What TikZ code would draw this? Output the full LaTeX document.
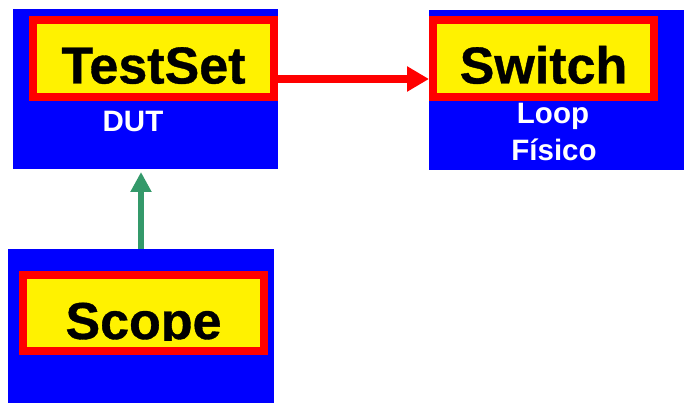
\documentclass[tikz,border=0pt]{standalone}
\usepackage{fontspec}
\setmainfont{Liberation Sans}
\newfontfamily\heavyfont[BoldFeatures={FakeBold=0.7}]{Liberation Sans}
\usetikzlibrary{arrows.meta}
\definecolor{arrowgreen}{RGB}{52,153,106}
\tikzset{
  outerbox/.style={fill=blue, draw=none, inner sep=0pt, outer sep=0pt},
  titlebox/.style={fill=yellow, draw=red, line width=8pt, inner sep=0pt, minimum width=#1, minimum height=77pt},
  bigtext/.style={font=\heavyfont\bfseries\fontsize{52}{60}\selectfont, text=black, inner sep=0pt, anchor=base},
  smalltext/.style={font=\bfseries\fontsize{29.5}{36}\selectfont, text=white, inner sep=0pt, anchor=base},
}
\begin{document}
\begin{tikzpicture}[x=1pt,y=-1pt]
\useasboundingbox (0,0) rectangle (684,403);
% outer blue boxes
\node[outerbox, minimum width=265pt, minimum height=160pt] (testbox) at (145.5,89) {};
\node[outerbox, minimum width=255pt, minimum height=160pt] (switchbox) at (556.5,90) {};
\node[outerbox, minimum width=266pt, minimum height=154pt] (scopebox) at (141,326) {};
% title boxes
\node[titlebox=241pt] (tstitle) at (153.5,58.5) {};
\node[titlebox=221pt] (swtitle) at (543.5,58.5) {};
\node[titlebox=241pt, minimum height=76pt] (sctitle) at (143.5,313) {};
% texts
\node[bigtext] (tstxt) at (153.5,83.5) {TestSet};
\node[bigtext] (swtxt) at (543.5,83.5) {Switch};
\begin{scope}
\clip (27,279) rectangle (260,340);
\node[bigtext] (sctxt) at (143.5,339) {Scope};
\end{scope}
\node[smalltext] (dut) at (133,131.5) {DUT};
\node[smalltext] (loop) at (553,123.3) {Loop};
\node[smalltext] (fisico) at (554,161) {Físico};
% connectors
\draw[red, line width=7.7pt, -{Triangle[length=22pt,width=24pt]}]
  ([yshift=-20.5pt]tstitle.east) -- ([yshift=-20.5pt]swtitle.west);
\draw[arrowgreen, line width=6pt, -{Triangle[length=20pt,width=20pt]}, shorten >=3pt]
  (scopebox.north) -- (scopebox.north |- testbox.south);
\end{tikzpicture}
\end{document}
